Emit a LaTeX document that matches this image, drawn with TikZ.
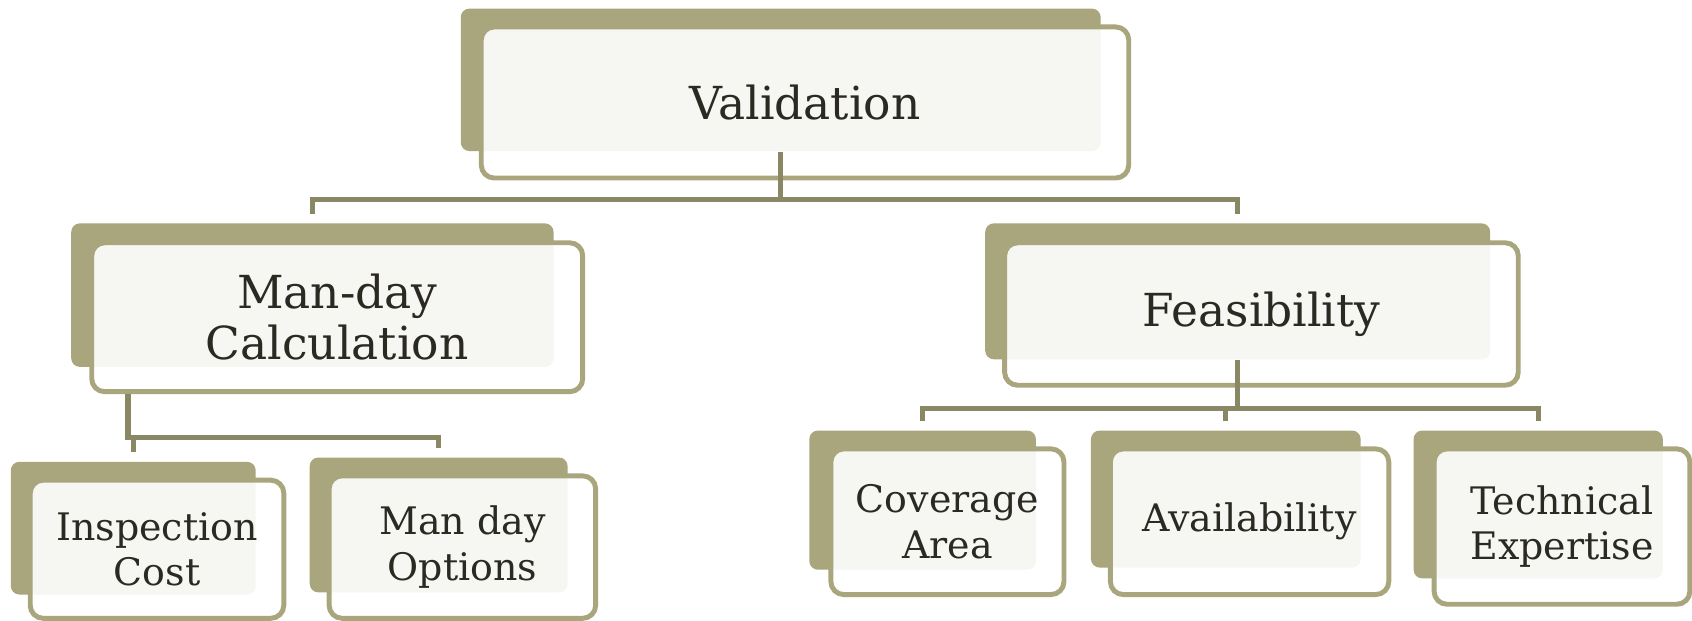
\documentclass[tikz,border=0pt]{standalone}
\usepackage{fontspec}
\setmainfont{DejaVu Serif}
\usepackage{tikz}
\usetikzlibrary{calc}

\definecolor{olive}{HTML}{A9A57C}
\definecolor{linkolive}{HTML}{8A8864}
\definecolor{inkdark}{HTML}{2B2A22}

\begin{document}
\begin{tikzpicture}[x=0.1mm,y=-0.1mm]
    \tikzstyle{backtile}=[
      rectangle,
      rounded corners=0.8mm,
      fill=olive,
      draw=none,
      inner sep=0pt,
    ]
    \tikzstyle{fronttile}=[
      rectangle,
      rounded corners=1.2mm,
      draw=olive,
      line width=1.3pt,
      fill=white,
      fill opacity=0.9,
      text opacity=1,
      text=inkdark,
      align=center,
      inner sep=0pt,
    ]
    \tikzstyle{bigtile}=[fronttile, font=\fontsize{12}{13.6}\selectfont]
    \tikzstyle{smalltile}=[fronttile, font=\fontsize{10}{12}\selectfont]
    \tikzstyle{link}=[line width=1.4pt, draw=linkolive, shorten >=0.8mm]

    \useasboundingbox (0,0) rectangle (1568,575);

    {
      \node[backtile, minimum width=59.3mm, minimum height=13.2mm] (vb) at (723.5,74) {};
      \node[bigtile, minimum width=60.0mm, minimum height=14.0mm] (v) at (746,95) {Validation};

      \node[backtile, minimum width=44.7mm, minimum height=13.3mm] (mcb) at (289.5,273.5) {};
      \node[bigtile, minimum width=45.5mm, minimum height=13.8mm] (mc) at (312.5,294) {Man-day\\Calculation};

      \node[backtile, minimum width=46.8mm, minimum height=12.6mm] (fb) at (1147,270) {};
      \node[bigtile, minimum width=47.6mm, minimum height=13.2mm] (f) at (1169,291) {Feasibility};

      \node[backtile, minimum width=22.7mm, minimum height=12.3mm] (icb) at (123.5,489.5) {};
      \node[smalltile, minimum width=23.5mm, minimum height=12.8mm] (ic) at (145.5,509) {Inspection\\Cost};

      \node[backtile, minimum width=23.9mm, minimum height=12.5mm] (ocb) at (406.5,486.5) {};
      \node[smalltile, minimum width=24.7mm, minimum height=13.2mm] (oc) at (428.5,507) {Man day\\Options};

      \node[backtile, minimum width=21.0mm, minimum height=12.9mm] (cab) at (855,463.5) {};
      \node[smalltile, minimum width=21.6mm, minimum height=13.5mm] (ca) at (878,483.5) {Coverage\\Area};

      \node[backtile, minimum width=25.0mm, minimum height=12.7mm] (avb) at (1136,462.5) {};
      \node[smalltile, minimum width=25.8mm, minimum height=13.5mm] (av) at (1158,483.5) {Availability};

      \node[backtile, minimum width=23.1mm, minimum height=13.7mm] (teb) at (1425.5,467.5) {};
      \node[smalltile, minimum width=23.7mm, minimum height=14.4mm] (te) at (1447.5,488) {Technical\\Expertise};
    }

    {
      \draw[link] (vb.south) -- ++(0,44) -| (mcb.north);
      \draw[link] (vb.south) -- ++(0,44) -| (fb.north);

      \draw[link] ([xshift=-0.5mm]icb.north |- mc.south) -- ++(0,40) -| (ocb.north);
      \draw[link] ([yshift=-4mm]icb.north |- mc.south) -- (icb.north);

      \draw[link] (fb.south) -- ++(0,45) -| (cab.north);
      \draw[link] (fb.south) -- ++(0,45) -| (avb.north);
      \draw[link] (fb.south) -- ++(0,45) -| (teb.north);
    }
  \end{tikzpicture}
\end{document}
